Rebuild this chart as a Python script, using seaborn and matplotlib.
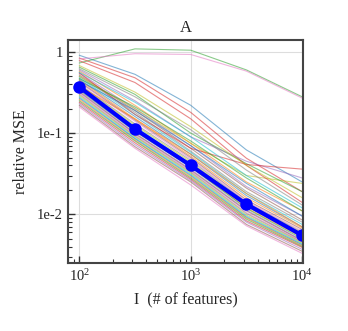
import numpy as np
import pandas as pd
import matplotlib
matplotlib.use("Agg")
import matplotlib.pyplot as plt
import matplotlib.ticker as mticker
import seaborn as sns

n_features = [100, 316, 1000, 3162, 10000]

# individual runs (relative MSE at each I), colours follow the tab10 cycle
runs = [
    [0.91, 0.53, 0.22, 0.062, 0.025],
    [0.58, 0.22, 0.075, 0.025, 0.011],
    [0.73, 1.09, 1.05, 0.60, 0.28],
    [0.84, 0.48, 0.18, 0.049, 0.019],
    [0.55, 0.20, 0.070, 0.022, 0.0095],
    [0.52, 0.19, 0.065, 0.021, 0.0085],
    [0.82, 0.95, 0.93, 0.58, 0.27],
    [0.50, 0.18, 0.060, 0.019, 0.0080],
    [0.50, 0.20, 0.075, 0.030, 0.024],
    [0.48, 0.17, 0.058, 0.018, 0.0075],
    [0.46, 0.16, 0.055, 0.017, 0.0070],
    [0.45, 0.15, 0.052, 0.016, 0.0068],
    [0.65, 0.30, 0.10, 0.042, 0.019],
    [0.78, 0.42, 0.15, 0.040, 0.014],
    [0.60, 0.25, 0.09, 0.045, 0.028],
    [0.43, 0.145, 0.050, 0.015, 0.0065],
    [0.42, 0.14, 0.048, 0.0145, 0.0062],
    [0.40, 0.13, 0.046, 0.014, 0.0060],
    [0.39, 0.125, 0.044, 0.0135, 0.0058],
    [0.37, 0.12, 0.042, 0.013, 0.0056],
    [0.36, 0.115, 0.041, 0.0125, 0.0054],
    [0.35, 0.11, 0.039, 0.012, 0.0052],
    [0.34, 0.105, 0.038, 0.0118, 0.0050],
    [0.55, 0.17, 0.065, 0.041, 0.036],
    [0.33, 0.10, 0.036, 0.0113, 0.0048],
    [0.32, 0.098, 0.035, 0.011, 0.0047],
    [0.31, 0.095, 0.034, 0.0105, 0.0046],
    [0.30, 0.092, 0.033, 0.0102, 0.0045],
    [0.29, 0.090, 0.032, 0.0098, 0.0044],
    [0.28, 0.087, 0.031, 0.0095, 0.0043],
    [0.27, 0.085, 0.030, 0.0092, 0.0042],
    [0.26, 0.082, 0.029, 0.0090, 0.0041],
    [0.25, 0.080, 0.028, 0.0087, 0.0040],
    [0.24, 0.076, 0.027, 0.0083, 0.0039],
    [0.23, 0.072, 0.026, 0.0080, 0.0037],
    [0.22, 0.068, 0.025, 0.0075, 0.0035],
    [0.21, 0.065, 0.023, 0.0072, 0.0033],
    [0.62, 0.28, 0.11, 0.035, 0.013],
    [0.68, 0.32, 0.12, 0.040, 0.016],
    [0.56, 0.24, 0.09, 0.030, 0.012],
    [0.44, 0.19, 0.07, 0.024, 0.0095],
    [0.38, 0.15, 0.055, 0.018, 0.0070],
    [0.47, 0.21, 0.08, 0.028, 0.011],
]

mean_mse = [0.37, 0.112, 0.040, 0.0133, 0.0055]

df = pd.DataFrame(
    [(i, x, v) for i, r in enumerate(runs) for x, v in zip(n_features, r)],
    columns=["run", "I", "mse"],
)
df_mean = pd.DataFrame({"I": n_features, "mse": mean_mse})

sns.set_style("white")
plt.rcParams["font.family"] = ["Liberation Serif", "DejaVu Serif"]
plt.rcParams["mathtext.fontset"] = "custom"
plt.rcParams["mathtext.rm"] = "Liberation Serif"
plt.rcParams["mathtext.it"] = "Liberation Serif:italic"

fig = plt.figure(figsize=(3.48, 3.31), dpi=100)
ax = fig.add_axes([0.195, 0.205, 0.676, 0.674])

pal = [sns.color_palette("tab10")[i % 10] for i in range(len(runs))]
sns.lineplot(data=df, x="I", y="mse", hue="run", palette=pal, legend=False,
             lw=0.8, alpha=0.55, ax=ax, estimator=None)
sns.lineplot(data=df_mean, x="I", y="mse", color="#0000ff", lw=3,
             marker="o", markersize=9, markeredgewidth=0, ax=ax)

ax.set_xscale("log")
ax.set_yscale("log")
ax.set_xlim(79, 10200)
ax.set_ylim(0.0025, 1.4)

ax.xaxis.set_major_locator(mticker.FixedLocator([1e2, 1e3, 1e4]))
ax.xaxis.set_major_formatter(mticker.FixedFormatter([r"$10^2$", r"$10^3$", r"$10^4$"]))
ax.yaxis.set_major_locator(mticker.FixedLocator([1, 0.1, 0.01]))
ax.yaxis.set_major_formatter(mticker.FixedFormatter(["1", "1e-1", "1e-2"]))
ax.xaxis.set_minor_locator(mticker.LogLocator(base=10, subs=np.arange(2, 10)))
ax.yaxis.set_minor_locator(mticker.LogLocator(base=10, subs=np.arange(2, 10)))
ax.xaxis.set_minor_formatter(mticker.NullFormatter())
ax.yaxis.set_minor_formatter(mticker.NullFormatter())

ax.tick_params(which="both", bottom=True, left=True, top=False, right=False)
ax.tick_params(which="major", direction="in", length=5, width=1, labelsize=10.5, color="#333333")
ax.tick_params(which="minor", direction="in", length=3, width=0.8, color="#333333")
ax.grid(True, which="major", color="#dddddd", lw=0.8)

for s in ax.spines.values():
    s.set_color("#444444")
    s.set_linewidth(1.5)

ax.set_title("A", fontsize=12, pad=6)
ax.set_xlabel("I  (# of features)", fontsize=11.5, labelpad=6)
ax.set_ylabel("relative MSE", fontsize=11.5, labelpad=6)

fig.savefig("out.png", dpi=100)
